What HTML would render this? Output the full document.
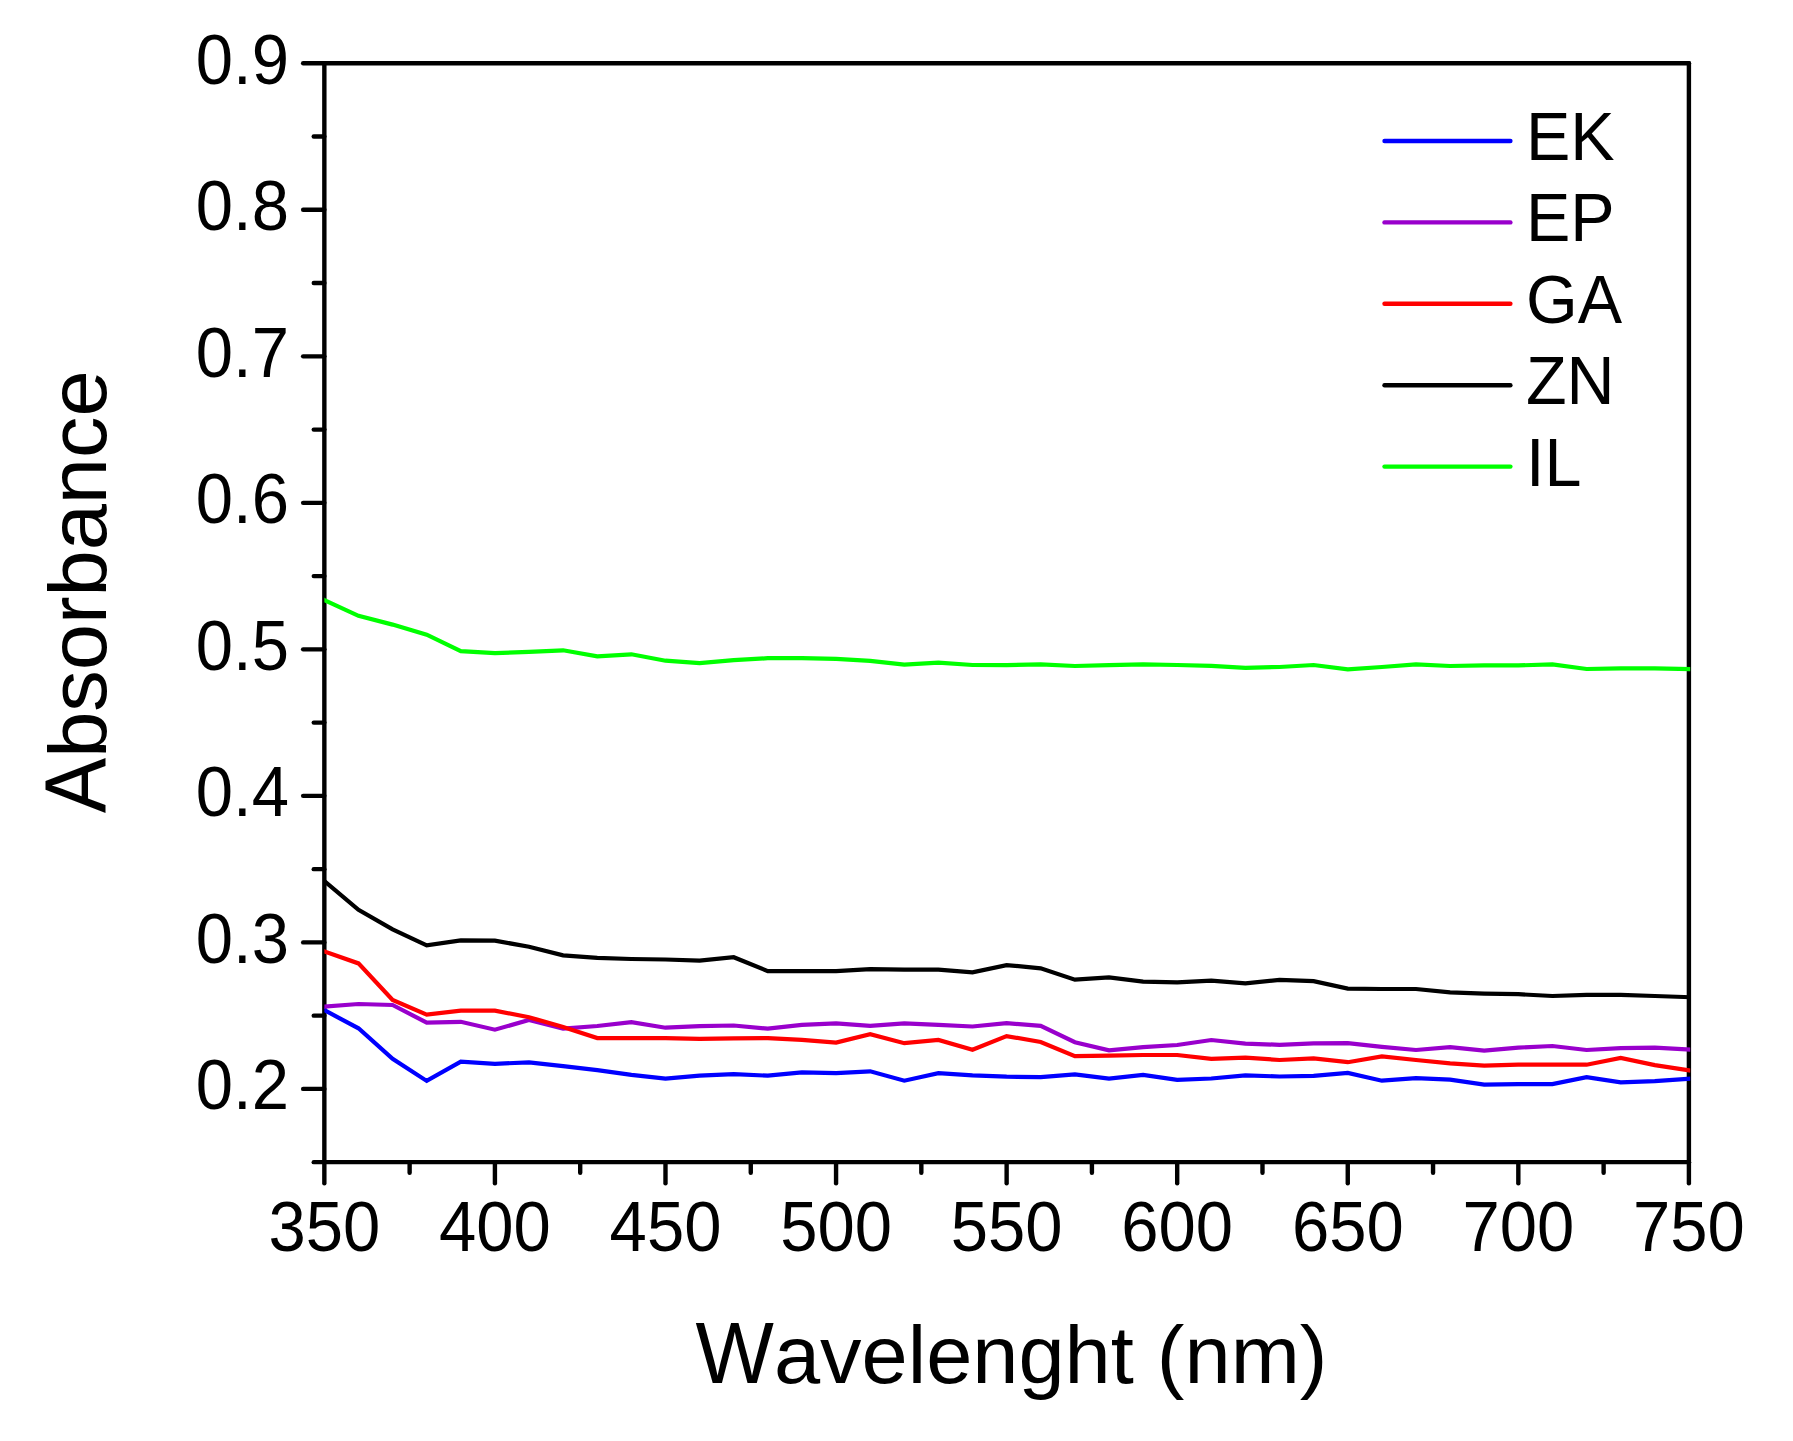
<!DOCTYPE html>
<html lang="en"><head><meta charset="utf-8"><title>Absorbance vs Wavelenght</title>
<style>
html,body{margin:0;padding:0;background:#fff;}
body{width:1793px;height:1441px;overflow:hidden;}
svg{display:block;}
text{font-family:"Liberation Sans",Arial,Helvetica,sans-serif;fill:#000;font-kerning:none;}
.tk{font-size:67.0px;}
.ttl{font-size:83.0px;}
.lg{font-size:66.5px;}
</style></head><body>
<svg width="1793" height="1441" viewBox="0 0 1793 1441">
<rect x="0" y="0" width="1793" height="1441" fill="#ffffff"/>
<defs><clipPath id="pc"><rect x="324.35" y="0" width="1365.85" height="1441"/></clipPath></defs>

<g stroke="#000" stroke-width="4.4" stroke-linecap="round" fill="none">
<line x1="324.35" y1="63.30" x2="324.35" y2="1162.16"/>
<line x1="1688.90" y1="63.30" x2="1688.90" y2="1162.16"/>
<line x1="324.35" y1="63.30" x2="1688.90" y2="63.30"/>
<line x1="324.35" y1="1162.16" x2="1688.90" y2="1162.16"/>
<line x1="313.75" y1="1162.16" x2="324.35" y2="1162.16"/>
<line x1="303.15" y1="1088.90" x2="324.35" y2="1088.90"/>
<line x1="313.75" y1="1015.64" x2="324.35" y2="1015.64"/>
<line x1="303.15" y1="942.39" x2="324.35" y2="942.39"/>
<line x1="313.75" y1="869.13" x2="324.35" y2="869.13"/>
<line x1="303.15" y1="795.87" x2="324.35" y2="795.87"/>
<line x1="313.75" y1="722.61" x2="324.35" y2="722.61"/>
<line x1="303.15" y1="649.36" x2="324.35" y2="649.36"/>
<line x1="313.75" y1="576.10" x2="324.35" y2="576.10"/>
<line x1="303.15" y1="502.84" x2="324.35" y2="502.84"/>
<line x1="313.75" y1="429.59" x2="324.35" y2="429.59"/>
<line x1="303.15" y1="356.33" x2="324.35" y2="356.33"/>
<line x1="313.75" y1="283.07" x2="324.35" y2="283.07"/>
<line x1="303.15" y1="209.81" x2="324.35" y2="209.81"/>
<line x1="313.75" y1="136.56" x2="324.35" y2="136.56"/>
<line x1="303.15" y1="63.30" x2="324.35" y2="63.30"/>
<line x1="324.35" y1="1162.16" x2="324.35" y2="1183.36"/>
<line x1="409.63" y1="1162.16" x2="409.63" y2="1172.76"/>
<line x1="494.92" y1="1162.16" x2="494.92" y2="1183.36"/>
<line x1="580.20" y1="1162.16" x2="580.20" y2="1172.76"/>
<line x1="665.49" y1="1162.16" x2="665.49" y2="1183.36"/>
<line x1="750.77" y1="1162.16" x2="750.77" y2="1172.76"/>
<line x1="836.06" y1="1162.16" x2="836.06" y2="1183.36"/>
<line x1="921.34" y1="1162.16" x2="921.34" y2="1172.76"/>
<line x1="1006.63" y1="1162.16" x2="1006.63" y2="1183.36"/>
<line x1="1091.91" y1="1162.16" x2="1091.91" y2="1172.76"/>
<line x1="1177.19" y1="1162.16" x2="1177.19" y2="1183.36"/>
<line x1="1262.48" y1="1162.16" x2="1262.48" y2="1172.76"/>
<line x1="1347.76" y1="1162.16" x2="1347.76" y2="1183.36"/>
<line x1="1433.05" y1="1162.16" x2="1433.05" y2="1172.76"/>
<line x1="1518.33" y1="1162.16" x2="1518.33" y2="1183.36"/>
<line x1="1603.62" y1="1162.16" x2="1603.62" y2="1172.76"/>
<line x1="1688.90" y1="1162.16" x2="1688.90" y2="1183.36"/>
</g>
<polyline points="324.4,1010.2 358.5,1028.3 392.6,1058.8 426.7,1080.9 460.8,1061.6 494.9,1063.8 529.0,1062.4 563.1,1066.2 597.3,1070.2 631.4,1074.9 665.5,1078.6 699.6,1075.7 733.7,1074.1 767.8,1075.7 801.9,1072.3 836.1,1073.1 870.2,1071.3 904.3,1080.7 938.4,1073.1 972.5,1075.3 1006.6,1076.7 1040.7,1077.1 1074.9,1074.3 1109.0,1078.7 1143.1,1074.9 1177.2,1079.9 1211.3,1078.5 1245.4,1075.3 1279.5,1076.5 1313.6,1075.9 1347.8,1072.9 1381.9,1080.7 1416.0,1078.1 1450.1,1079.7 1484.2,1084.7 1518.3,1084.1 1552.4,1084.1 1586.6,1077.1 1620.7,1082.3 1654.8,1081.1 1688.9,1078.7" fill="none" stroke="#0000ff" stroke-width="4.2" stroke-linejoin="miter" stroke-miterlimit="10" stroke-linecap="square" clip-path="url(#pc)"/>
<polyline points="324.4,1006.6 358.5,1004.0 392.6,1005.0 426.7,1022.6 460.8,1021.8 494.9,1029.7 529.0,1020.0 563.1,1028.7 597.3,1026.0 631.4,1022.2 665.5,1027.7 699.6,1026.1 733.7,1025.5 767.8,1028.7 801.9,1024.9 836.1,1023.3 870.2,1025.9 904.3,1023.3 938.4,1024.9 972.5,1026.5 1006.6,1023.1 1040.7,1025.9 1074.9,1042.2 1109.0,1050.4 1143.1,1047.2 1177.2,1045.0 1211.3,1040.0 1245.4,1043.6 1279.5,1044.8 1313.6,1043.4 1347.8,1043.2 1381.9,1046.8 1416.0,1050.0 1450.1,1047.2 1484.2,1050.6 1518.3,1047.6 1552.4,1046.0 1586.6,1050.0 1620.7,1048.2 1654.8,1047.6 1688.9,1049.6" fill="none" stroke="#9900cc" stroke-width="4.2" stroke-linejoin="miter" stroke-miterlimit="10" stroke-linecap="square" clip-path="url(#pc)"/>
<polyline points="324.4,951.4 358.5,963.4 392.6,1000.0 426.7,1014.6 460.8,1010.6 494.9,1010.6 529.0,1017.2 563.1,1027.0 597.3,1038.1 631.4,1038.1 665.5,1038.2 699.6,1038.9 733.7,1038.3 767.8,1038.1 801.9,1039.9 836.1,1042.6 870.2,1034.1 904.3,1043.2 938.4,1039.9 972.5,1049.8 1006.6,1036.1 1040.7,1042.0 1074.9,1056.2 1109.0,1055.6 1143.1,1055.0 1177.2,1055.0 1211.3,1058.8 1245.4,1057.6 1279.5,1060.0 1313.6,1058.4 1347.8,1062.2 1381.9,1056.4 1416.0,1060.0 1450.1,1063.3 1484.2,1065.7 1518.3,1064.7 1552.4,1064.7 1586.6,1064.7 1620.7,1058.0 1654.8,1065.1 1688.9,1070.3" fill="none" stroke="#ff0000" stroke-width="4.2" stroke-linejoin="miter" stroke-miterlimit="10" stroke-linecap="square" clip-path="url(#pc)"/>
<polyline points="324.4,881.1 358.5,909.8 392.6,929.3 426.7,945.3 460.8,940.3 494.9,940.7 529.0,946.7 563.1,955.4 597.3,957.8 631.4,959.0 665.5,959.5 699.6,960.6 733.7,957.2 767.8,971.1 801.9,971.1 836.1,971.1 870.2,969.1 904.3,969.7 938.4,969.7 972.5,972.3 1006.6,965.1 1040.7,968.3 1074.9,979.7 1109.0,977.3 1143.1,981.7 1177.2,982.3 1211.3,980.7 1245.4,983.3 1279.5,979.9 1313.6,981.1 1347.8,988.6 1381.9,989.0 1416.0,989.0 1450.1,992.4 1484.2,993.6 1518.3,994.2 1552.4,996.0 1586.6,994.8 1620.7,994.8 1654.8,996.0 1688.9,997.2" fill="none" stroke="#000000" stroke-width="4.2" stroke-linejoin="miter" stroke-miterlimit="10" stroke-linecap="square" clip-path="url(#pc)"/>
<polyline points="324.4,600.1 358.5,615.8 392.6,624.6 426.7,634.7 460.8,651.1 494.9,653.1 529.0,651.9 563.1,650.3 597.3,656.3 631.4,654.3 665.5,660.7 699.6,663.2 733.7,660.2 767.8,658.2 801.9,658.2 836.1,658.8 870.2,660.8 904.3,664.6 938.4,662.6 972.5,665.0 1006.6,665.1 1040.7,664.4 1074.9,666.0 1109.0,665.2 1143.1,664.4 1177.2,665.0 1211.3,665.8 1245.4,667.8 1279.5,667.0 1313.6,665.0 1347.8,669.4 1381.9,667.0 1416.0,664.4 1450.1,666.0 1484.2,665.4 1518.3,665.4 1552.4,664.4 1586.6,669.0 1620.7,668.4 1654.8,668.4 1688.9,669.0" fill="none" stroke="#00ff00" stroke-width="4.2" stroke-linejoin="miter" stroke-miterlimit="10" stroke-linecap="square" clip-path="url(#pc)"/>
<text class="tk" transform="translate(289.0,1109.1) scale(1,1.0420)" text-anchor="end">0.2</text>
<text class="tk" transform="translate(289.0,962.6) scale(1,1.0420)" text-anchor="end">0.3</text>
<text class="tk" transform="translate(289.0,816.1) scale(1,1.0420)" text-anchor="end">0.4</text>
<text class="tk" transform="translate(289.0,669.6) scale(1,1.0420)" text-anchor="end">0.5</text>
<text class="tk" transform="translate(289.0,523.0) scale(1,1.0420)" text-anchor="end">0.6</text>
<text class="tk" transform="translate(289.0,376.5) scale(1,1.0420)" text-anchor="end">0.7</text>
<text class="tk" transform="translate(289.0,230.0) scale(1,1.0420)" text-anchor="end">0.8</text>
<text class="tk" transform="translate(289.0,83.5) scale(1,1.0420)" text-anchor="end">0.9</text>
<text class="tk" transform="translate(324.4,1251.0) scale(1,1.0420)" text-anchor="middle">350</text>
<text class="tk" transform="translate(494.9,1251.0) scale(1,1.0420)" text-anchor="middle">400</text>
<text class="tk" transform="translate(665.5,1251.0) scale(1,1.0420)" text-anchor="middle">450</text>
<text class="tk" transform="translate(836.1,1251.0) scale(1,1.0420)" text-anchor="middle">500</text>
<text class="tk" transform="translate(1006.6,1251.0) scale(1,1.0420)" text-anchor="middle">550</text>
<text class="tk" transform="translate(1177.2,1251.0) scale(1,1.0420)" text-anchor="middle">600</text>
<text class="tk" transform="translate(1347.8,1251.0) scale(1,1.0420)" text-anchor="middle">650</text>
<text class="tk" transform="translate(1518.3,1251.0) scale(1,1.0420)" text-anchor="middle">700</text>
<text class="tk" transform="translate(1688.9,1251.0) scale(1,1.0420)" text-anchor="middle">750</text>
<text class="ttl" transform="translate(695.60,1383.10) scale(1,0.9850)"><tspan style="font-size:87.80px" textLength="78.34" lengthAdjust="spacingAndGlyphs">W</tspan>avelenght (nm)</text>
<text class="ttl" transform="translate(106.00,813.20) rotate(-90) scale(1,0.9850)"><tspan style="font-size:87.80px" textLength="55.36" lengthAdjust="spacingAndGlyphs">A</tspan>bsorbance</text>
<line x1="1384.5" y1="141.0" x2="1510.4" y2="141.0" stroke="#0000ff" stroke-width="4.4" stroke-linecap="round"/>
<text class="lg" transform="translate(1526.0,159.9) scale(1,1.0420)">EK</text>
<line x1="1384.5" y1="222.4" x2="1510.4" y2="222.4" stroke="#9900cc" stroke-width="4.4" stroke-linecap="round"/>
<text class="lg" transform="translate(1526.0,241.3) scale(1,1.0420)">EP</text>
<line x1="1384.5" y1="303.8" x2="1510.4" y2="303.8" stroke="#ff0000" stroke-width="4.4" stroke-linecap="round"/>
<text class="lg" transform="translate(1526.0,322.7) scale(1,1.0420)">GA</text>
<line x1="1384.5" y1="385.2" x2="1510.4" y2="385.2" stroke="#000000" stroke-width="4.4" stroke-linecap="round"/>
<text class="lg" transform="translate(1526.0,404.1) scale(1,1.0420)">ZN</text>
<line x1="1384.5" y1="466.6" x2="1510.4" y2="466.6" stroke="#00ff00" stroke-width="4.4" stroke-linecap="round"/>
<text class="lg" transform="translate(1526.0,485.5) scale(1,1.0420)">IL</text>
</svg></body></html>
